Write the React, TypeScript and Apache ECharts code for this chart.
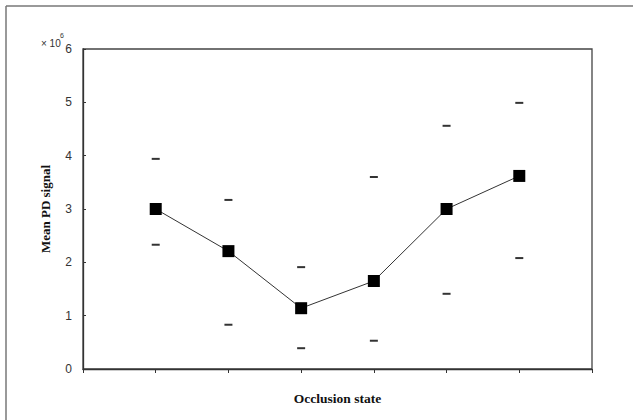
import React, { useEffect, useRef } from "react";
import * as echarts from "echarts";

const positions = [1, 2, 3, 4, 5, 6];
const meanValues = [3.0, 2.21, 1.14, 1.65, 3.0, 3.62];
const upperValues = [3.94, 3.17, 1.91, 3.6, 4.56, 4.99];
const lowerValues = [2.33, 0.83, 0.39, 0.53, 1.41, 2.08];
const yTicks = [0, 1, 2, 3, 4, 5, 6];

export default function App() {
  const ref = useRef<HTMLDivElement>(null);
  useEffect(() => {
    document.body.style.margin = "0";
    const chart = echarts.init(ref.current!, null, { renderer: "svg" });
    const pairs = (vals: number[]) => positions.map((p, i) => [p, vals[i]]);
    chart.setOption({
      animation: false,
      backgroundColor: "#ffffff",
      grid: {
        left: 83,
        top: 49,
        right: 41,
        bottom: 51,
        show: true,
        borderColor: "#444",
        borderWidth: 1.3,
      },
      xAxis: {
        type: "value",
        min: 0,
        max: 7,
        interval: 1,
        name: "Occlusion state",
        nameLocation: "middle",
        nameGap: 22,
        nameTextStyle: {
          fontFamily: "Liberation Serif",
          fontWeight: "bold",
          fontSize: 13.5,
          color: "#111",
        },
        axisLine: { lineStyle: { color: "#333", width: 1.3 } },
        axisTick: { show: true, inside: false, length: 4, lineStyle: { color: "#333" } },
        axisLabel: { show: false },
        splitLine: { show: false },
      },
      yAxis: {
        type: "value",
        min: yTicks[0],
        max: yTicks[yTicks.length - 1],
        interval: 1,
        name: "Mean PD signal",
        nameLocation: "middle",
        nameGap: 31,
        nameTextStyle: {
          fontFamily: "Liberation Serif",
          fontWeight: "bold",
          fontSize: 13,
          color: "#111",
        },
        axisLine: { show: true, lineStyle: { color: "#333", width: 1.3 } },
        axisTick: { show: true, inside: true, length: 3, lineStyle: { color: "#333" } },
        axisLabel: {
          fontFamily: "Liberation Sans",
          fontSize: 12,
          color: "#333",
          margin: 11,
        },
        splitLine: { show: false },
      },
      graphic: [
        { type: "line", shape: { x1: 6, y1: 6, x2: 633, y2: 6 }, style: { stroke: "#777", lineWidth: 1.5 } },
        { type: "line", shape: { x1: 6, y1: 6, x2: 6, y2: 420 }, style: { stroke: "#777", lineWidth: 1.5 } },
        {
          type: "text",
          x: 41,
          y: 38,
          style: { text: "× 10", fontFamily: "Liberation Sans", fontSize: 10, fill: "#333" },
        },
        {
          type: "text",
          x: 60,
          y: 32,
          style: { text: "6", fontFamily: "Liberation Sans", fontSize: 7, fill: "#333" },
        },
      ],
      series: [
        {
          type: "line",
          data: pairs(meanValues),
          symbol: "rect",
          symbolSize: 12,
          itemStyle: { color: "#000" },
          lineStyle: { color: "#333", width: 1 },
          z: 3,
        },
        {
          type: "scatter",
          data: pairs(upperValues),
          symbol: "rect",
          symbolSize: [8, 2],
          itemStyle: { color: "#000" },
        },
        {
          type: "scatter",
          data: pairs(lowerValues),
          symbol: "rect",
          symbolSize: [8, 2],
          itemStyle: { color: "#000" },
        },
      ],
    });
    return () => chart.dispose();
  }, []);
  return <div ref={ref} style={{ width: 633, height: 420 }} />;
}
